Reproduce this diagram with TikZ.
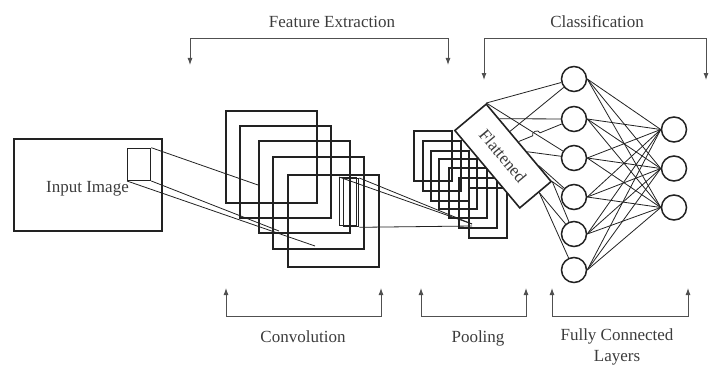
\documentclass[tikz,border=0pt]{standalone}
\usepackage{fontspec}
\setmainfont{Liberation Serif}
\usetikzlibrary{calc,arrows.meta}
\definecolor{ink}{HTML}{222222}
\definecolor{txt}{HTML}{3C3C3C}
\definecolor{brk}{HTML}{505050}
\tikzset{
  fmap/.style={draw=ink, line width=1.6pt, inner sep=0pt},
  kern/.style={draw=ink, line width=1.3pt, inner sep=0pt},
  link/.style={draw=ink, line width=0.8pt},
  brack/.style={draw=brk, line width=0.9pt, {Latex[length=7pt,width=5pt]}-{Latex[length=7pt,width=5pt]}},
  neuron/.style={circle, draw=ink, line width=1.5pt, minimum size=25pt, inner sep=0pt},
  lab/.style={text=txt, font=\fontsize{17}{20.5}\selectfont, inner sep=0pt, anchor=base},
}

\begin{document}
\begin{tikzpicture}[x=1pt,y=1pt]
  \useasboundingbox (0,0) rectangle (709,365);

  % input image with its receptive field
  \node[fmap, anchor=south west, minimum width=148pt, minimum height=92pt] (img) at (13,133) {};
  \node[lab] (img-lab) at (87.5,173) {Input Image};
  \node[kern, anchor=south west, minimum width=23pt, minimum height=32pt] (field) at (127,184) {};

  % convolution feature maps
  \foreach \x/\y [count=\i] in {225/255, 239/240, 258/225, 272/209, 287/191}{
    \node[fmap, anchor=north west, minimum width=91pt, minimum height=92pt] (conv\i) at (\x,\y) {};
  }
  \node[kern, anchor=north west, minimum width=17pt, minimum height=48pt] (win1) at (339,188) {};
  \node[kern, anchor=north west, minimum width=15pt, minimum height=48pt] (win2) at (343,187) {};

  \coordinate (hit1) at (258,180);
  \coordinate (hit2) at (315,119);
  \coordinate (hit3) at (279,134);
  \draw[link] (field.north east) -- (hit1);
  \draw[link] (field.south west) -- (hit2);
  \draw[link] (field.south east) -- (hit3);

  % pooled maps
  \foreach \x/\y [count=\i] in {413/235, 422/225, 430/215, 438/207, 448/198, 458/188, 468/178}{
    \node[fmap, anchor=north west, minimum width=38pt, minimum height=50pt] (pool\i) at (\x,\y) {};
  }
  \coordinate (cell) at (472,141);
  \coordinate (cellb) at (472,139);
  \draw[link] (win1.north west) -- (cell);
  \draw[link] (win2.north east) -- (cell);
  \draw[link] (win2.south east) -- (cellb);

  % flattened vector
  \node[fmap, fill=white, rotate=-50, minimum width=101pt, minimum height=41pt,
        text=txt, font=\fontsize{17}{20.5}\selectfont] (flat) at (503,209) {Flattened};

  % fully connected layers
  \foreach \y [count=\i] in {286,246,207,168,131,95}{
    \node[neuron] (h\i) at (574,\y) {};
  }
  \foreach \y [count=\i] in {235.5,196.5,157.5}{
    \node[neuron] (o\i) at (674,\y) {};
  }
  \foreach \i in {1,...,6}{
    \foreach \j in {1,2,3}{
      \draw[link] (h\i.east) -- (o\j.west);
    }
  }

  % flattened -> first layer
  \coordinate (fa) at ($(flat.north west)!0.2!(flat.north east)$);
  \coordinate (fb) at ($(flat.north west)!0.36!(flat.north east)$);
  \coordinate (fq) at ($(flat.north west)!0.49!(flat.north east)$);
  \coordinate (fc) at ($(flat.north west)!0.62!(flat.north east)$);
  \coordinate (fd) at ($(flat.north west)!0.8!(flat.north east)$);
  \coordinate (fe) at ($(flat.north east)!0.4!(flat.south east)$);
  \draw[link] (flat.north west) -- (h1);
  \draw[link] (flat.north west) -- (h3);
  \draw[link] (fa) -- (h2);
  \draw[link] (fb) -- (h1);
  \draw[link] (fc) -- (h3);
  \draw[link] (fd) -- (h4);
  \draw[link] (flat.north east) -- (h4);
  \draw[link] (flat.north east) -- (h5);
  \draw[link] (fe) -- (h5);
  \draw[link] (fe) -- (h6);
  % line hopping over the one to h3
  \coordinate (cross) at (intersection of flat.north west--h3 and fq--h2);
  \coordinate (hopa) at ($(cross)!4pt!(fq)$);
  \coordinate (hopb) at ($(cross)!4pt!(h2)$);
  \draw[link] (fq) -- (hopa) to[bend left=90, looseness=1.4] (hopb) -- (h2);

  % stage brackets
  \coordinate (fe-l) at (190,300);
  \coordinate (fe-r) at (448,300);
  \draw[brack] (fe-l) -- ++(0,27) -| (fe-r);
  \node[lab] (fe-lab) at (332,337.5) {Feature Extraction};

  \coordinate (cl-l) at (484,285);
  \coordinate (cl-r) at (706,285);
  \draw[brack] (cl-l) -- ++(0,42) -| (cl-r);
  \node[lab] (cl-lab) at (597,337.5) {Classification};

  \coordinate (cv-l) at (226,77);
  \coordinate (cv-r) at (381,77);
  \draw[brack] (cv-l) -- ++(0,-28) -| (cv-r);
  \node[lab] (cv-lab) at (303,22.7) {Convolution};

  \coordinate (pl-l) at (421,77);
  \coordinate (pl-r) at (526,77);
  \draw[brack] (pl-l) -- ++(0,-28) -| (pl-r);
  \node[lab] (pl-lab) at (478,22.7) {Pooling};

  \coordinate (fc-l) at (552,77);
  \coordinate (fc-r) at (688,77);
  \draw[brack] (fc-l) -- ++(0,-28) -| (fc-r);
  \node[lab, anchor=north, align=center] (fc-lab) at (617,36) {Fully Connected\\Layers};
\end{tikzpicture}
\end{document}
